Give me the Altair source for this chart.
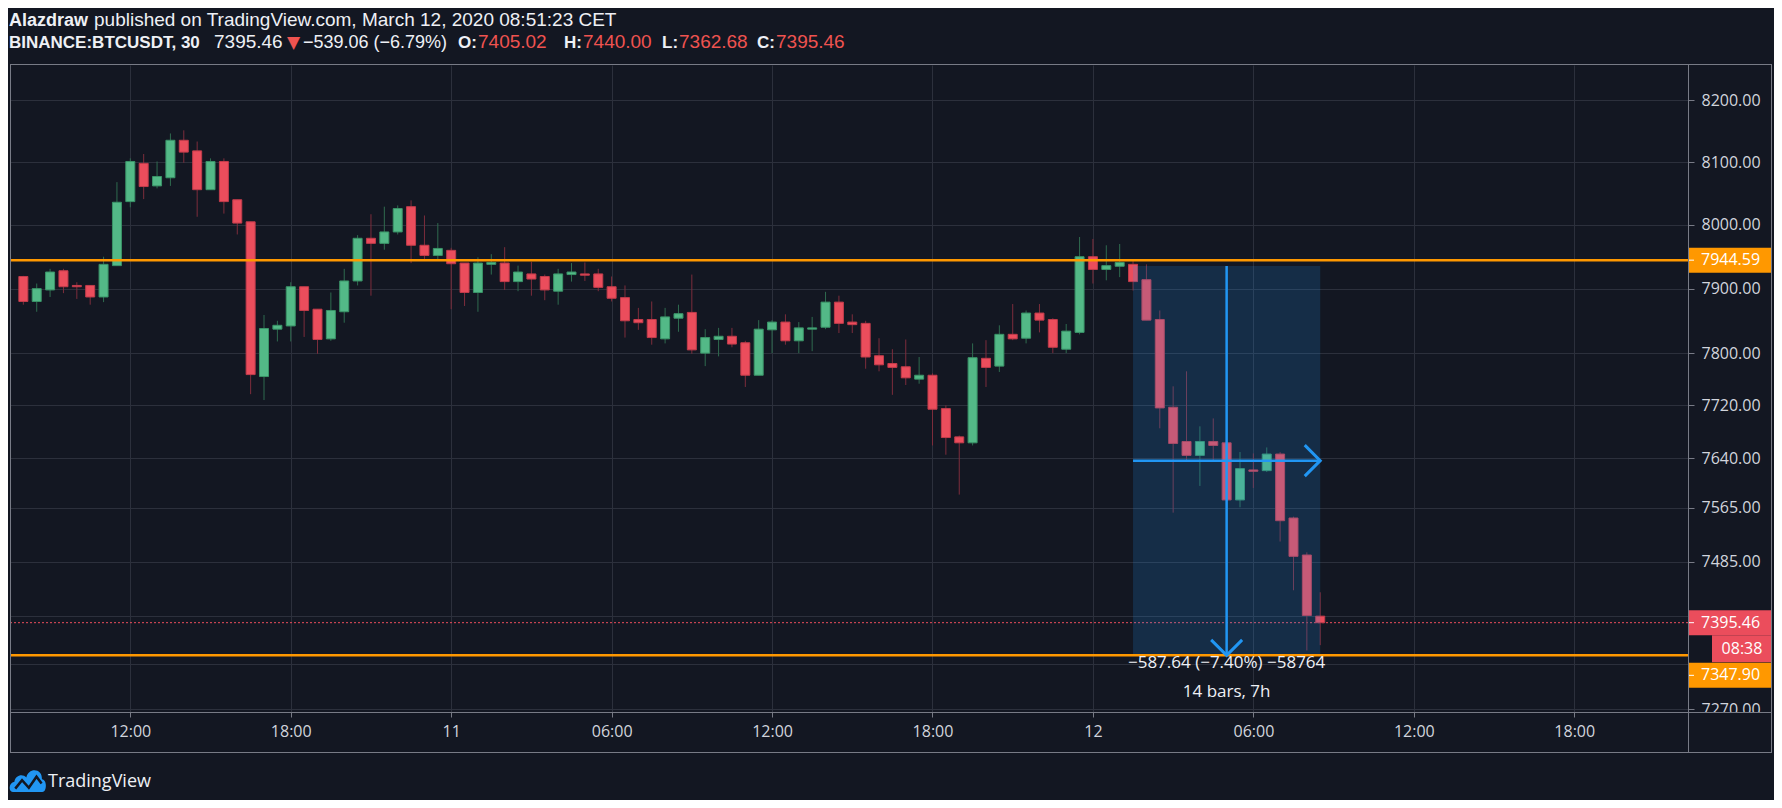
import altair as alt
import pandas as pd
import math

# ---------------- data ----------------
opens = [7919, 7880, 7898, 7928, 7905, 7905, 7887, 7936, 8037, 8098,
         8062, 8075, 8135, 8118, 8056, 8101, 8040, 8005, 7764, 7837,
         7842, 7903, 7868, 7822, 7864, 7912, 7979, 7971, 7989, 8029,
         7968, 7952, 7960, 7940, 7894, 7938, 7940, 7911, 7923, 7919,
         7896, 7922, 7923, 7923, 7903, 7886, 7852, 7852, 7822, 7854,
         7863, 7800, 7821, 7826, 7816, 7766, 7836, 7848, 7819, 7837,
         7840, 7879, 7848, 7846, 7796, 7784, 7779, 7760, 7766, 7715,
         7672, 7663, 7792, 7780, 7829, 7823, 7862, 7852, 7806, 7832,
         7950, 7930, 7935, 7938, 7914, 7852, 7717, 7665, 7644, 7665,
         7663, 7577, 7622, 7621, 7646, 7550, 7495, 7405.02]
highs = [7920, 7908, 7931, 7931, 7910, 7905, 7950, 8068, 8106, 8113,
         8101, 8146, 8151, 8133, 8106, 8106, 8040, 8005, 7859, 7850,
         7910, 7903, 7868, 7894, 7931, 7984, 8017, 8029, 8031, 8039,
         8015, 8003, 7964, 7940, 7949, 7954, 7965, 7936, 7942, 7922,
         7931, 7940, 7941, 7931, 7919, 7905, 7870, 7880, 7870, 7875,
         7922, 7837, 7839, 7839, 7819, 7851, 7851, 7860, 7848, 7856,
         7895, 7889, 7860, 7850, 7823, 7806, 7821, 7794, 7769, 7720,
         7674, 7815, 7820, 7843, 7876, 7866, 7876, 7854, 7845, 7981,
         7978, 7968, 7970, 7943, 7938, 7866, 7749, 7772, 7688, 7700,
         7665, 7649, 7647, 7656, 7649, 7552, 7499, 7440.00]
lows = [7875, 7864, 7887, 7893, 7884, 7875, 7879, 7936, 8028, 8041,
        8058, 8062, 8099, 8013, 8056, 8018, 7985, 7737, 7728, 7818,
        7818, 7825, 7799, 7819, 7847, 7905, 7889, 7961, 7985, 7940,
        7946, 7946, 7868, 7873, 7864, 7922, 7898, 7896, 7889, 7882,
        7875, 7911, 7912, 7896, 7880, 7824, 7836, 7813, 7815, 7833,
        7799, 7780, 7795, 7809, 7748, 7766, 7800, 7813, 7800, 7803,
        7837, 7831, 7831, 7776, 7772, 7736, 7751, 7753, 7659, 7645,
        7585, 7659, 7748, 7771, 7820, 7815, 7832, 7800, 7800, 7829,
        7908, 7913, 7918, 7897, 7851, 7685, 7558, 7636, 7598, 7634,
        7572, 7566, 7595, 7619, 7515, 7443, 7355, 7362.68]
closes = [7880, 7900, 7926, 7903, 7903, 7887, 7938, 8036, 8101, 8061,
          8077, 8135, 8116, 8056, 8101, 8037, 8003, 7767, 7838, 7843,
          7903, 7866, 7821, 7866, 7912, 7979, 7971, 7989, 8026, 7968,
          7952, 7963, 7939, 7894, 7940, 7941, 7911, 7926, 7915, 7898,
          7923, 7926, 7921, 7902, 7885, 7850, 7847, 7824, 7856, 7861,
          7805, 7824, 7826, 7814, 7766, 7837, 7848, 7819, 7839, 7839,
          7879, 7846, 7844, 7794, 7782, 7778, 7762, 7766, 7714, 7671,
          7663, 7793, 7778, 7829, 7822, 7862, 7851, 7809, 7834, 7950,
          7930, 7936, 7941, 7911, 7851, 7716, 7662, 7644, 7665, 7659,
          7577, 7624, 7620, 7646, 7546, 7493, 7406, 7395.46]

first_bar = "2020-03-10 08:00:00"   # 30-minute bars, UTC
bar_minutes = 30

resistance = 7944.59
support = 7347.90
last_price = 7395.46
countdown = "08:38"

price_ticks = [8200, 8100, 8000, 7900, 7800, 7720, 7640, 7565, 7485, 7405, 7335, 7270]
hidden_price_labels = [7405, 7335]
time_ticks = [(10, 12), (10, 18), (11, 0), (11, 6), (11, 12), (11, 18),
              (12, 0), (12, 6), (12, 12), (12, 18)]

measure_start = "2020-03-12T01:30:00Z"
measure_end = "2020-03-12T08:30:00Z"
measure_mid = "2020-03-12T05:00:00Z"
measure_from = 7935.54
measure_to = 7347.90
measure_text = "\u2212587.64 (\u22127.40%) \u221258764"
measure_bars = "14 bars, 7h"

# ---------------- styling ----------------
BG = "#131722"
GRID = "#2c303c"
FRAME = "#787b86"
AXIS_TXT = "#d1d4dc"
UP, DOWN = "#53b987", "#eb4d5c"
UP_WICK, DOWN_WICK = "#2f6b4f", "#7d2d3c"
UP_EDGE, DOWN_EDGE = "#3a9468", "#c23c4b"
ORANGE = "#ff9800"
BLUE = "#2196f3"
RED_TXT = "#ef5350"
WHITE = "#eef0f5"
FONT = "Open Sans"
HFONT = "Liberation Sans"

W, H = 1678, 647

# ---------------- tables ----------------
t0 = pd.Timestamp(first_bar)
times = [(t0 + pd.Timedelta(minutes=bar_minutes * i)).strftime("%Y-%m-%dT%H:%M:%SZ")
         for i in range(len(opens))]
candles = pd.DataFrame({"t": times, "open": opens, "high": highs,
                        "low": lows, "close": closes})
candles["dir"] = ["up" if c >= o else "down" for o, c in zip(opens, closes)]

xscale = alt.Scale(type="utc", nice=False,
                   domain=[alt.DateTime(year=2020, month=3, date=10, hours=7, minutes=41, seconds=16, utc=True),
                           alt.DateTime(year=2020, month=3, date=12, hours=22, minutes=4, seconds=1, utc=True)])
yscale = alt.Scale(type="log", nice=False, zero=False, domain=[7266.1, 8256.9])

xaxis = alt.Axis(
    values=[alt.DateTime(year=2020, month=3, date=d, hours=h, utc=True) for d, h in time_ticks],
    labelExpr="utchours(datum.value) == 0 ? utcFormat(datum.value, '%-d') : utcFormat(datum.value, '%H:%M')",
    title=None, grid=True, gridColor=GRID, gridWidth=1, domain=False,
    ticks=True, tickColor=FRAME, tickSize=5, labelColor=AXIS_TXT, labelFont=FONT,
    labelFontSize=16, labelPadding=6, labelOverlap=False, labelFlush=False, zindex=0)
hidden_expr = " || ".join(f"datum.value == {v}" for v in hidden_price_labels)
yaxis = alt.Axis(
    orient="right", values=price_ticks,
    labelExpr=f"({hidden_expr}) ? '' : format(datum.value, '.2f')",
    title=None, grid=True,
    gridColor=GRID, gridWidth=1, domain=False, ticks=True, tickColor=FRAME,
    tickSize=6, labelColor=AXIS_TXT, labelFont=FONT, labelFontSize=16,
    labelPadding=7, labelOverlap=False, labelFlush=False, labelBound=False, zindex=0)


def X(field):
    return alt.X(field, type="temporal", scale=xscale, axis=xaxis, title=None)


def Y(field):
    return alt.Y(field, type="quantitative", scale=yscale, axis=yaxis, title=None)


layers = []

# current price dotted line
layers.append(alt.Chart(pd.DataFrame({"p": [last_price]})).mark_rule(
    color=DOWN, strokeDash=[2, 2], strokeWidth=1).encode(y=Y("p")))

# wicks
layers.append(alt.Chart(candles).mark_rule(strokeWidth=1).encode(
    x=X("t"), y=Y("low"), y2="high",
    color=alt.Color("dir:N", scale=alt.Scale(domain=["up", "down"], range=[UP_WICK, DOWN_WICK]), legend=None)))

# bodies
layers.append(alt.Chart(candles).mark_bar(width=9, strokeWidth=1).encode(
    x=X("t"), y=Y("open"), y2="close",
    fill=alt.Fill("dir:N", scale=alt.Scale(domain=["up", "down"], range=[UP, DOWN]), legend=None),
    stroke=alt.Stroke("dir:N", scale=alt.Scale(domain=["up", "down"], range=[UP_EDGE, DOWN_EDGE]), legend=None)))

# measure box
box = pd.DataFrame({"t0": [measure_start], "t1": [measure_end],
                    "p0": [measure_from], "p1": [measure_to]})
layers.append(alt.Chart(box).mark_rect(color=BLUE, opacity=0.18).encode(
    x=X("t0"), x2="t1", y=Y("p0"), y2="p1"))

# horizontal levels
layers.append(alt.Chart(pd.DataFrame({"p": [resistance, support]})).mark_rule(
    color=ORANGE, strokeWidth=2.5).encode(y=Y("p")))

# measure arrows
mid_price = math.sqrt(measure_from * measure_to)
layers.append(alt.Chart(pd.DataFrame({"t": [measure_mid], "p0": [measure_from], "p1": [measure_to]}))
              .mark_rule(color=BLUE, strokeWidth=2.5).encode(x=X("t"), y=Y("p0"), y2="p1"))
layers.append(alt.Chart(pd.DataFrame({"t0": [measure_start], "t1": [measure_end], "p": [mid_price]}))
              .mark_rule(color=BLUE, strokeWidth=2.5).encode(x=X("t0"), x2="t1", y=Y("p")))
layers.append(alt.Chart(pd.DataFrame({"t": [measure_end], "p": [mid_price]})).mark_point(
    shape="M-1,-1L0,0L-1,1", size=961, filled=False, color=BLUE, strokeWidth=3, opacity=1)
    .encode(x=X("t"), y=Y("p")))
layers.append(alt.Chart(pd.DataFrame({"t": [measure_mid], "p": [measure_to]})).mark_point(
    shape="M-1,-1L0,0L1,-1", size=961, filled=False, color=BLUE, strokeWidth=3, opacity=1)
    .encode(x=X("t"), y=Y("p")))

mdf = pd.DataFrame({"t": [measure_mid], "p": [measure_to]})
layers.append(alt.Chart(mdf).mark_text(text=measure_text, dy=13, baseline="alphabetic", align="center",
                                       fontSize=17, font=FONT, color=WHITE).encode(x=X("t"), y=Y("p")))
layers.append(alt.Chart(mdf).mark_text(text=measure_bars, dy=42, baseline="alphabetic", align="center",
                                       fontSize=17, font=FONT, color=WHITE).encode(x=X("t"), y=Y("p")))


# price tags on the right axis
def price_tag(price, text, bg, off=0, x0=1678, x1=1762, tx=1692, tick=True, align="left", h=25):
    d = pd.DataFrame({"p": [price]})
    out = [alt.Chart(d).mark_rule(color=bg, strokeWidth=h, yOffset=off).encode(
        x=alt.value(x0), x2=alt.value(x1), y=Y("p"))]
    if tick:
        out.append(alt.Chart(d).mark_rule(color="white", strokeWidth=1, yOffset=off).encode(
            x=alt.value(x0 + 1), x2=alt.value(x0 + 6), y=Y("p")))
    out.append(alt.Chart(d).mark_text(text=text, align=align, baseline="middle", fontSize=16,
                                      font=FONT, color="white", yOffset=off).encode(
        x=alt.value(tx), y=Y("p")))
    return out


layers += price_tag(resistance, f"{resistance:.2f}", ORANGE, tx=1691)
layers += price_tag(last_price, f"{last_price:.2f}", DOWN, tx=1691)
layers += price_tag(last_price, countdown, DOWN, off=26, x0=1702, tick=False, tx=1732, align="center", h=27)
layers += price_tag(support, f"{support:.2f}", ORANGE, off=20, tx=1691)

# cover below the price scale (corner)
layers.append(alt.Chart().mark_rect(color=BG).encode(
    x=alt.value(1679), x2=alt.value(1762), y=alt.value(647.5), y2=alt.value(687)))

# frame lines
for xv in [0.5, 1678.5, 1761.5]:
    layers.append(alt.Chart().mark_rule(color=FRAME, strokeWidth=1).encode(
        x=alt.value(xv), y=alt.value(-1), y2=alt.value(688)))
for yv in [-0.5, 647.5, 687.5]:
    layers.append(alt.Chart().mark_rule(color=FRAME, strokeWidth=1).encode(
        x=alt.value(0), x2=alt.value(1762), y=alt.value(yv)))

# header (page x, page baseline)
L1, L2 = 25.5, 48
header = [
    ("Alazdraw", 9, L1, WHITE, "bold", 18, HFONT),
    ("published on TradingView.com, March 12, 2020 08:51:23 CET", 94, L1, WHITE, "normal", 19, HFONT),
    ("BINANCE:BTCUSDT, 30", 9, L2, WHITE, "bold", 17, HFONT),
    ("7395.46", 214, L2, WHITE, "normal", 19, HFONT),
    ("\u25BC", 287, L2, RED_TXT, "normal", 17, "DejaVu Sans"),
    ("\u2212539.06 (\u22126.79%)", 303, L2, WHITE, "normal", 18, HFONT),
    ("O:", 458, L2, WHITE, "bold", 17, HFONT),
    ("7405.02", 478, L2, RED_TXT, "normal", 19, HFONT),
    ("H:", 564, L2, WHITE, "bold", 17, HFONT),
    ("7440.00", 583, L2, RED_TXT, "normal", 19, HFONT),
    ("L:", 662, L2, WHITE, "bold", 17, HFONT),
    ("7362.68", 679, L2, RED_TXT, "normal", 19, HFONT),
    ("C:", 757, L2, WHITE, "bold", 17, HFONT),
    ("7395.46", 776, L2, RED_TXT, "normal", 19, HFONT),
]
for txt, px, py, col, wt, fs, fnt in header:
    layers.append(alt.Chart().mark_text(text=txt, align="left", baseline="alphabetic", fontSize=fs,
                                        font=fnt, fontWeight=wt, color=col).encode(
        x=alt.value(px - 10), y=alt.value(py - 65)))

# footer logo + text
cloud = ("M-0.9,0.65 C-1.15,0.65 -1.15,0.1 -0.8,0.05 C-0.75,-0.35 -0.3,-0.45 -0.1,-0.2 "
         "C0.0,-0.8 0.85,-0.8 0.82,-0.1 C1.15,-0.05 1.1,0.65 0.85,0.65 Z")
zig = "M-0.75,0.45 L-0.35,-0.05 L0.05,0.4 L0.5,-0.25 L0.8,0.15"
layers.append(alt.Chart().mark_point(shape=cloud, size=1156, filled=True, color=BLUE, opacity=1).encode(
    x=alt.value(18), y=alt.value(716)))
layers.append(alt.Chart().mark_point(shape=zig, size=1156, filled=False, color=BG, strokeWidth=2.5,
                                     opacity=1).encode(x=alt.value(18), y=alt.value(716)))
layers.append(alt.Chart().mark_text(text="TradingView", align="left", baseline="alphabetic", fontSize=18,
                                    font=FONT, color=WHITE).encode(x=alt.value(38), y=alt.value(722)))

chart = alt.layer(*layers).properties(
    width=W, height=H,
    autosize=alt.AutoSizeParams(type="none"),
    padding={"left": 2, "top": 57, "right": 86, "bottom": 88},
    background=BG,
).configure_view(stroke=None)

chart.save("out.html", embed_options={"renderer": "svg", "actions": False})
